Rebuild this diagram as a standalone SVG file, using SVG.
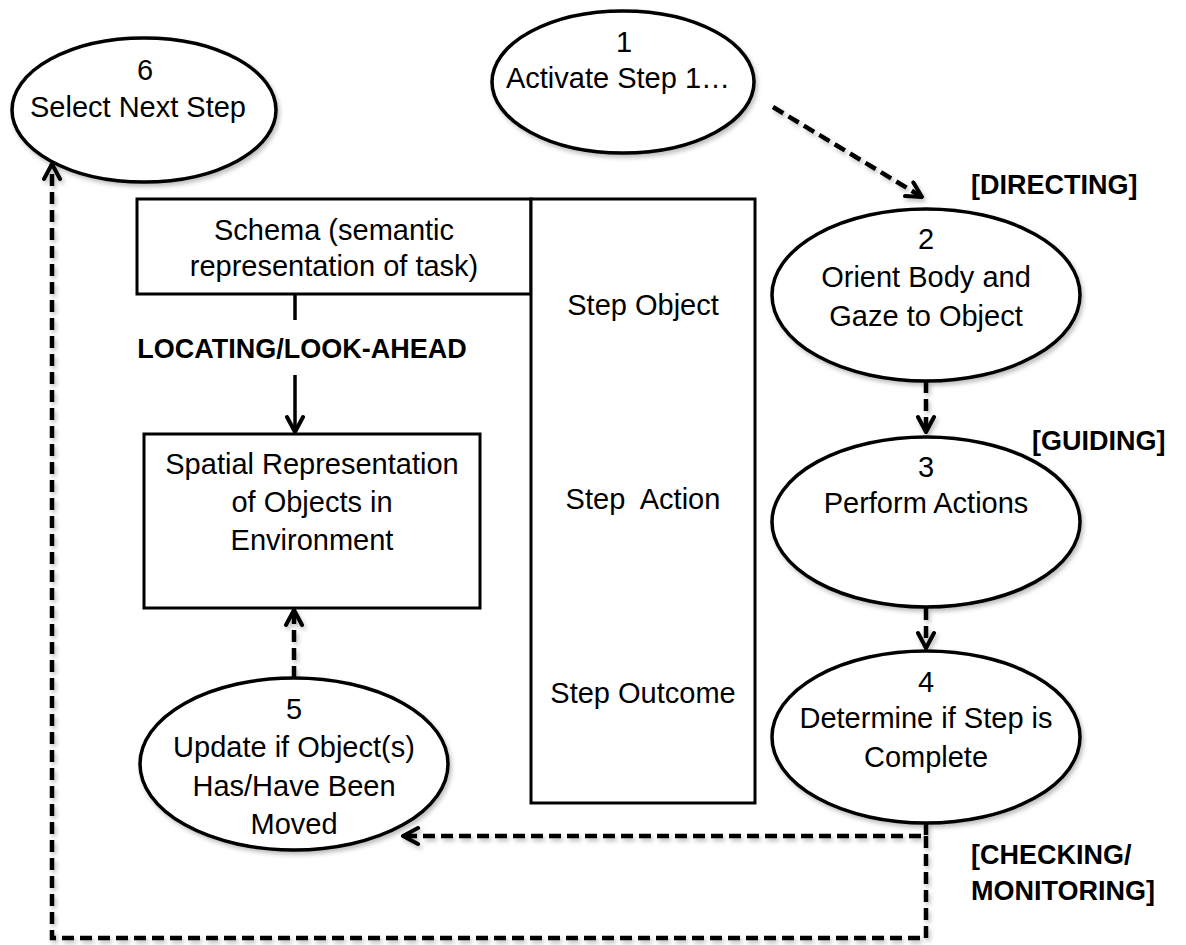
<svg xmlns="http://www.w3.org/2000/svg" width="1186" height="945" viewBox="0 0 1186 945">
<style>
.bg{fill:#fff}
.el{fill:#fff;stroke:#000;stroke-width:3.5;filter:url(#sh)}
.bx{fill:#fff;stroke:#000;stroke-width:3}
.t{font-family:"Liberation Sans",Arial,sans-serif;font-size:29px;fill:#000;text-anchor:middle}
.b{font-family:"Liberation Sans",Arial,sans-serif;font-size:27px;font-weight:bold;fill:#000}
.dash{fill:none;stroke:#000;stroke-width:4.5;stroke-dasharray:12 6;filter:url(#sh)}
.solid{fill:none;stroke:#000;stroke-width:3.5}
</style>
<defs>
<filter id="sh" filterUnits="userSpaceOnUse" x="0" y="0" width="1186" height="945">
<feDropShadow dx="2" dy="3" stdDeviation="2" flood-color="#000" flood-opacity="0.25"/>
</filter>
<marker id="ah" viewBox="0 0 20 20" refX="18" refY="10" markerWidth="20" markerHeight="20" markerUnits="userSpaceOnUse" orient="auto">
<path d="M3,2 L18,10 L3,18" fill="none" stroke="#000" stroke-width="4" stroke-dasharray="none" stroke-linecap="round" stroke-linejoin="round"/>
</marker>
</defs>
<rect class="bg" x="0" y="0" width="1186" height="945"/>

<g id="connectors">
<path class="solid" d="M295,294 V320 M295,375 V432" marker-end="url(#ah)"/>
<path class="dash" d="M294,678 V610" marker-end="url(#ah)"/>
<path class="dash" d="M773,107 L922,197" marker-end="url(#ah)"/>
<path class="dash" d="M926,381 V432" marker-end="url(#ah)"/>
<path class="dash" d="M926,608 V648" marker-end="url(#ah)"/>
<path class="dash" d="M926,823 V836 H403" marker-end="url(#ah)"/>
<path class="dash" d="M926,836 V938 H52 V164" marker-end="url(#ah)"/>
</g>

<g id="n6">
<ellipse class="el" cx="144" cy="110" rx="132" ry="72"/>
<text class="t" x="145" y="80">6</text>
<text class="t" x="138" y="117">Select Next Step</text>
</g>

<g id="n1">
<ellipse class="el" cx="623" cy="82" rx="131" ry="71"/>
<text class="t" x="624" y="52">1</text>
<text class="t" x="618" y="88">Activate Step 1…</text>
</g>

<g id="n2">
<ellipse class="el" cx="926" cy="295" rx="154" ry="86"/>
<text class="t" x="926" y="249">2</text>
<text class="t" x="926" y="287">Orient Body and</text>
<text class="t" x="926" y="326">Gaze to Object</text>
</g>

<g id="n3">
<ellipse class="el" cx="926" cy="522" rx="154" ry="85"/>
<text class="t" x="926" y="477">3</text>
<text class="t" x="926" y="513">Perform Actions</text>
</g>

<g id="n4">
<ellipse class="el" cx="926" cy="737" rx="154" ry="86"/>
<text class="t" x="926" y="692">4</text>
<text class="t" x="926" y="728">Determine if Step is</text>
<text class="t" x="926" y="767">Complete</text>
</g>

<g id="n5">
<ellipse class="el" cx="294" cy="764" rx="154" ry="86"/>
<text class="t" x="294" y="719">5</text>
<text class="t" x="294" y="757">Update if Object(s)</text>
<text class="t" x="294" y="796">Has/Have Been</text>
<text class="t" x="294" y="834">Moved</text>
</g>

<g id="schema">
<rect class="bx" x="137" y="199" width="394" height="95"/>
<text class="t" x="334" y="240">Schema (semantic</text>
<text class="t" x="334" y="276">representation of task)</text>
</g>

<g id="steps">
<rect class="bx" x="531" y="199" width="224" height="604"/>
<text class="t" x="643" y="315">Step Object</text>
<text class="t" x="643" y="509" xml:space="preserve">Step  Action</text>
<text class="t" x="643" y="703">Step Outcome</text>
</g>

<g id="spatial">
<rect class="bx" x="144" y="434" width="336" height="174"/>
<text class="t" x="312" y="474">Spatial Representation</text>
<text class="t" x="312" y="512">of Objects in</text>
<text class="t" x="312" y="550">Environment</text>
</g>

<g id="labels">
<text class="b" x="302" y="358" text-anchor="middle">LOCATING/LOOK-AHEAD</text>
<text class="b" x="971" y="194">[DIRECTING]</text>
<text class="b" x="1032" y="450">[GUIDING]</text>
<text class="b" x="971" y="864">[CHECKING/</text>
<text class="b" x="971" y="900">MONITORING]</text>
</g>
</svg>
